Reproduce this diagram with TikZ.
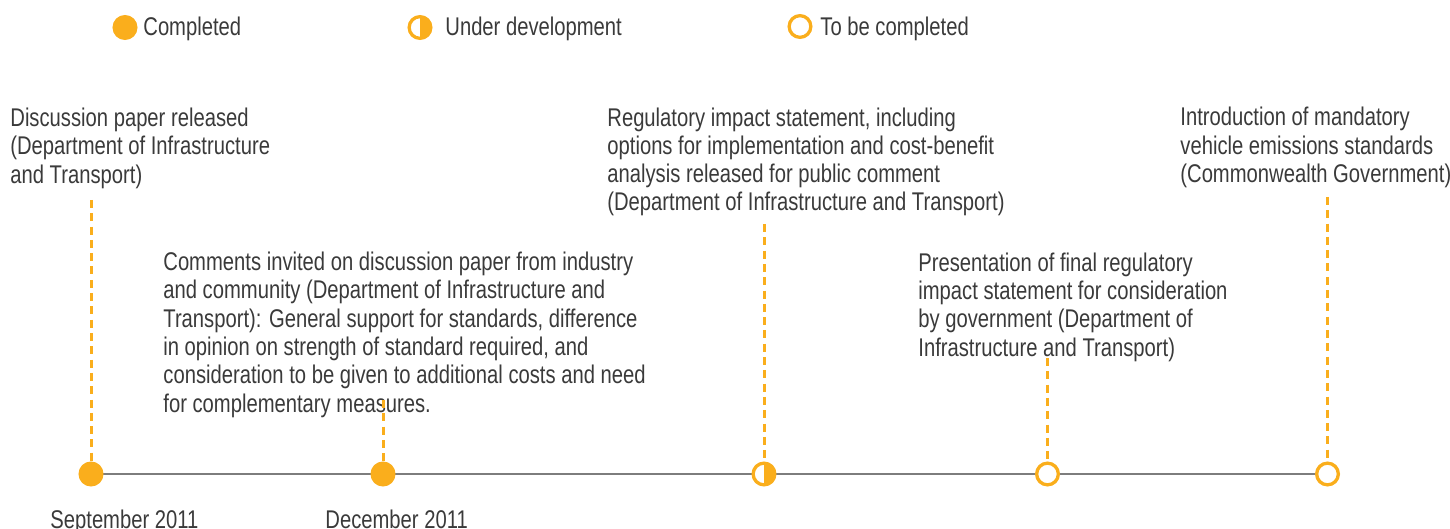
\documentclass[tikz,border=0pt]{standalone}
\usepackage{fontspec}
\setmainfont[FakeStretch=0.79]{Liberation Sans}
\usetikzlibrary{positioning,backgrounds}
\definecolor{amber}{RGB}{250,174,28}
\definecolor{ink}{RGB}{58,58,58}
\definecolor{railgrey}{RGB}{125,125,125}
\tikzset{%
      mark base/.style={circle, draw=amber, line width=1.65pt, minimum size=10.85pt, inner sep=0pt},
      done/.style={mark base, fill=amber},
      halfdone/.style={mark base, fill=white, path picture={\fill[amber] (path picture bounding box.north) rectangle (path picture bounding box.south east);}},
      todo/.style={mark base, fill=white},
      note/.style={anchor=base west, align=left, inner sep=0pt, text=ink},
      datum/.style={anchor=base west, inner sep=0pt, text=ink},
      stem/.style={draw, amber, line width=1.5pt, dash pattern=on 4pt off 2.65pt},
      rail/.style={draw, railgrey, line width=1pt},
    }
\newcommand{\milestone}[2]{node (m#1) [#2] {}}
\newcommand{\stemline}[2]{%
      \path [stem] (#2) -- (#1.north);}

\begin{document}
\begin{tikzpicture}[x=0.5pt, y=-0.5pt, font=\fontsize{12.8}{14.15}\selectfont]
      \useasboundingbox (0,0) rectangle (1450,529);

      % Legend
      \path (125,27.5) node (lg1) [done] {};
      \path (420,27.5) node (lg2) [halfdone] {};
      \path (800,26.5) node (lg3) [todo] {};
      \node (lt1) [datum] at (143,35.5) {Completed};
      \node (lt2) [datum] at (445,35.5) {Under development};
      \node (lt3) [datum] at (820,35.5) {To be completed};

      % Milestones on the time line
      \path (91,474) \milestone{1}{done};
      \path (383,474) \milestone{2}{done};
      \path (764,474) \milestone{3}{halfdone};
      \path (1047.5,474) \milestone{4}{todo};
      \path (1327.5,474) \milestone{5}{todo};

      \begin{scope}[on background layer]
        \path [rail] (m1.center) -- (m5.center);
      \end{scope}

      % Descriptions (placed by the baseline of their last line)
      \node (n1) [note] at (10,183.3) {Discussion paper released\\(Department of Infrastructure\\and Transport)};
      \node (n2) [note] at (163,412) {Comments invited on discussion paper from industry\\and community (Department of Infrastructure and\\Transport): General support for standards, difference\\in opinion on strength of standard required, and\\consideration to be given to additional costs and need\\for complementary measures.};
      \node (n3) [note] at (607,211) {Regulatory impact statement, including\\options for implementation and cost-benefit\\analysis released for public comment\\(Department of Infrastructure and Transport)};
      \node (n4) [note] at (918,356) {Presentation of final regulatory\\impact statement for consideration\\by government (Department of\\Infrastructure and Transport)};
      \node (n5) [note] at (1180,182.6) {Introduction of mandatory\\vehicle emissions standards\\(Commonwealth Government)};

      % Dates
      \node (d1) [datum] at (50,528) {September 2011};
      \node (d2) [datum] at (325,528) {December 2011};

      % Dashed stems from the descriptions
      \coordinate (s1) at (91,200);
      \coordinate (s2) at (383,400);
      \coordinate (s3) at (764,224);
      \coordinate (s4) at (1047.5,358);
      \coordinate (s5) at (1327.5,197);
      \stemline{m1}{s1};
      \stemline{m2}{s2};
      \stemline{m3}{s3};
      \stemline{m4}{s4};
      \stemline{m5}{s5};

    \end{tikzpicture}
\end{document}
